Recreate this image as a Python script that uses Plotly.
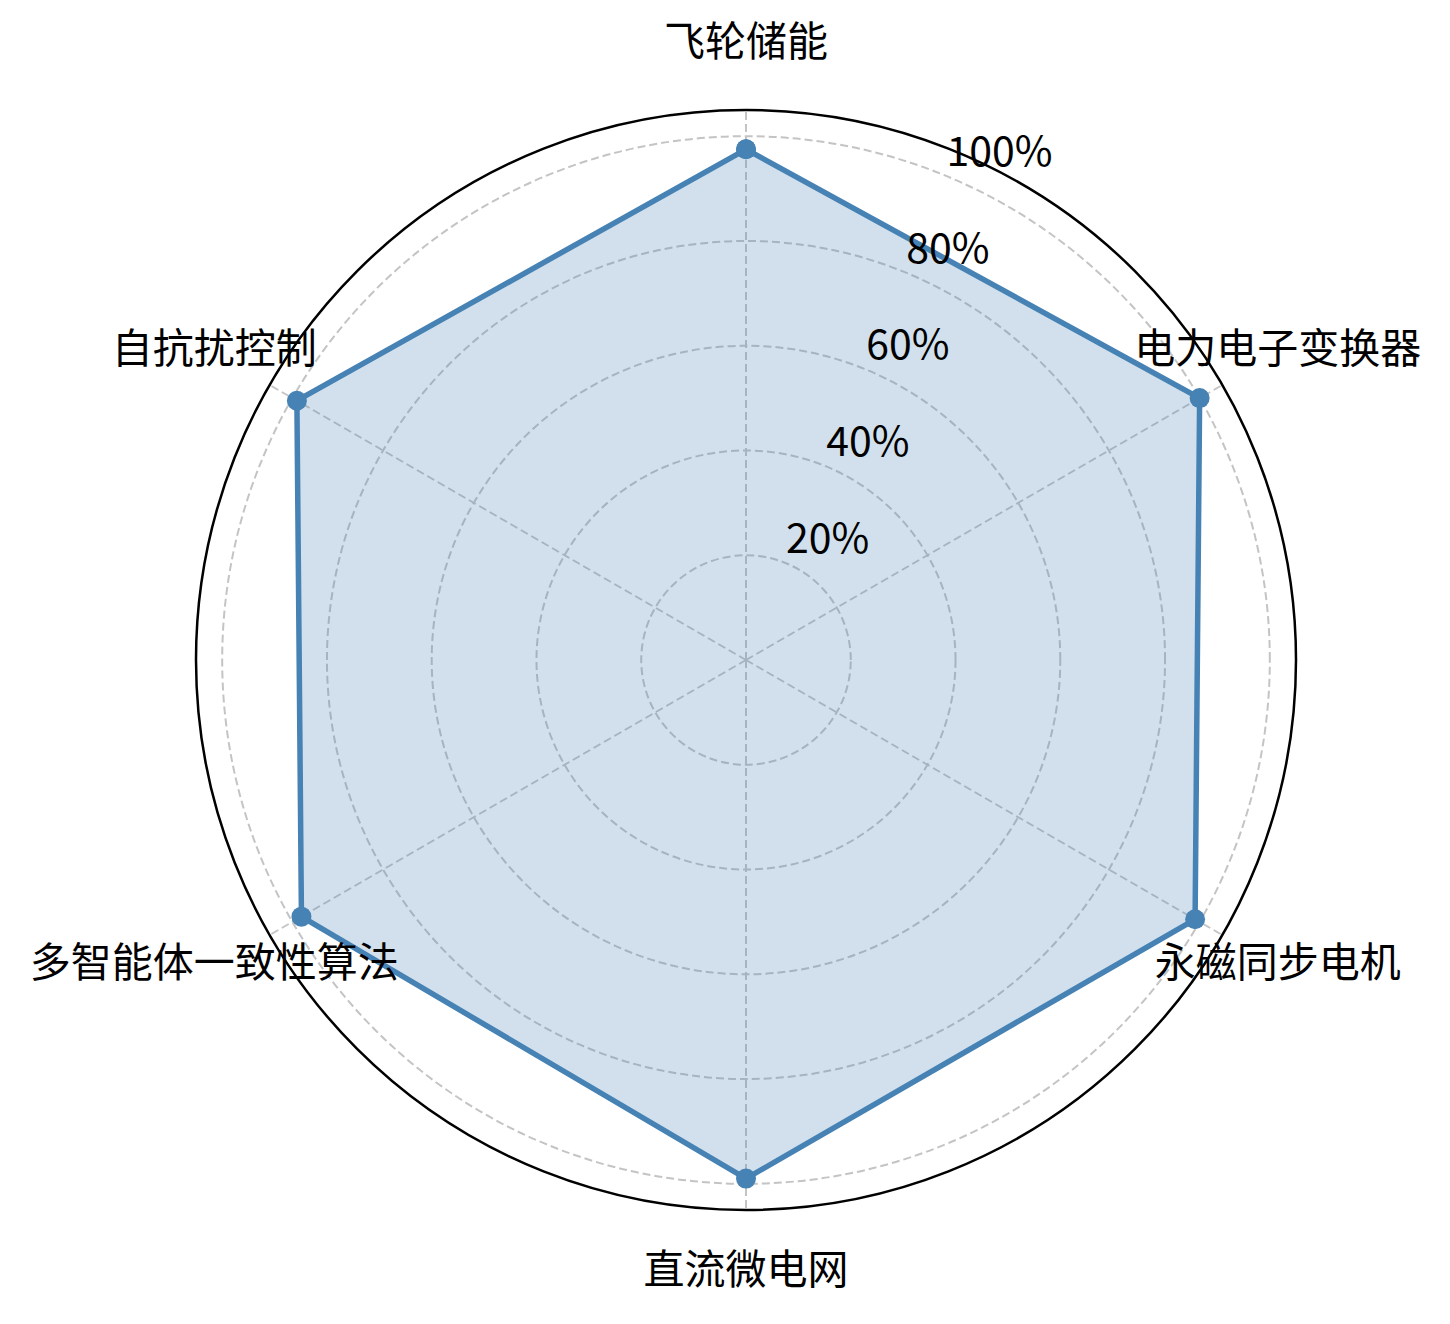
import plotly.graph_objects as go

categories = ["飞轮储能", "电力电子变换器", "永磁同步电机", "直流微电网", "多智能体一致性算法", "自抗扰控制"]
values = [97.5, 100, 99, 99, 98, 99]
radial_tickvals = [20, 40, 60, 80, 100]
radial_ticktext = ["20%", "40%", "60%", "80%", "100%"]

FONT = "Noto Sans CJK SC"
LABEL_R = 117.2
R_MAX = 105

W, H = 1450, 1324
OFF = 8  # page body margin
CX, CY = 746 - OFF, 660 - OFF
RAD = 550
RAD_OUT = 650

def dom(rad):
    return dict(x=[(CX - rad) / W, (CX + rad) / W],
                y=[1 - (CY + rad) / H, 1 - (CY - rad) / H])

fig = go.Figure()

fig.add_trace(go.Scatterpolar(
    r=values + [values[0]],
    theta=categories + [categories[0]],
    mode="lines+markers",
    fill="toself",
    fillcolor="rgba(70,130,180,0.25)",
    line=dict(color="#4682B4", width=5.5),
    marker=dict(color="#4682B4", size=20),
    showlegend=False,
    hoverinfo="skip",
))

# radial tick labels along 22.5 deg from north
fig.add_trace(go.Scatterpolar(
    r=radial_tickvals,
    theta=[22.5] * len(radial_tickvals),
    thetaunit="degrees",
    mode="text",
    text=radial_ticktext,
    textposition="top right",
    textfont=dict(family=FONT, size=41, color="black"),
    cliponaxis=False,
    showlegend=False,
    hoverinfo="skip",
    subplot="polar2",
))

# category labels outside the circle
fig.add_trace(go.Scatterpolar(
    r=[LABEL_R] * len(categories),
    theta=categories,
    mode="text",
    text=categories,
    textposition="middle center",
    textfont=dict(family=FONT, size=41, color="black"),
    cliponaxis=False,
    showlegend=False,
    hoverinfo="skip",
    subplot="polar3",
))

fig.update_layout(
    width=W, height=H,
    margin=dict(l=0, r=0, t=0, b=0),
    paper_bgcolor="white",
    plot_bgcolor="white",
    font=dict(family=FONT, size=41, color="black"),
    polar=dict(
        domain=dom(RAD),
        bgcolor="rgba(0,0,0,0)",
        radialaxis=dict(
            range=[0, R_MAX],
            tickvals=radial_tickvals,
            showticklabels=False,
            ticks="",
            showline=False,
            gridcolor="#c4c4c4",
            gridwidth=1.5,
            griddash="8px,4px",
        ),
        angularaxis=dict(
            rotation=90,
            direction="clockwise",
            showticklabels=False,
            ticks="",
            showline=True,
            linecolor="black",
            linewidth=2.5,
            gridcolor="#c4c4c4",
            gridwidth=1.5,
            griddash="8px,4px",
        ),
    ),
    polar2=dict(
        domain=dom(RAD),
        bgcolor="rgba(0,0,0,0)",
        radialaxis=dict(range=[0, R_MAX], visible=False),
        angularaxis=dict(rotation=90, direction="clockwise", visible=False),
    ),
    polar3=dict(
        domain=dom(RAD_OUT),
        bgcolor="rgba(0,0,0,0)",
        radialaxis=dict(range=[0, R_MAX * RAD_OUT / RAD], visible=False),
        angularaxis=dict(rotation=90, direction="clockwise", visible=False,
                         categoryarray=categories, type="category"),
    ),
)

fig.write_html("out.html")
